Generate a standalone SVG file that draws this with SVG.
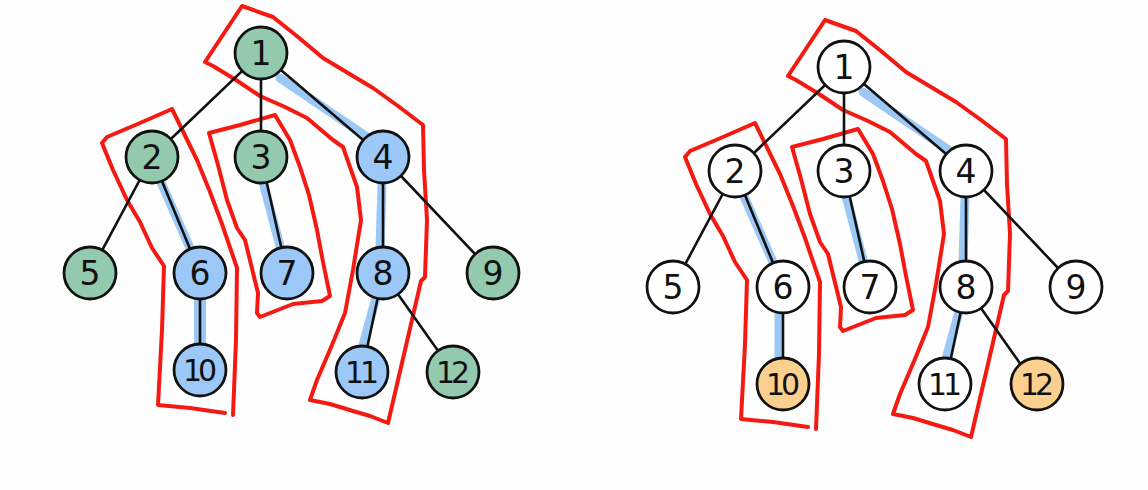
<svg xmlns="http://www.w3.org/2000/svg" width="1148" height="490" viewBox="0 0 1148 490">
<style>
.bg{fill:#fefefe}
.edge{stroke:#111;stroke-width:2.6;stroke-linecap:round;fill:none}
.hl{stroke:#9cc8f6;stroke-width:9;stroke-linecap:round;fill:none}
.glow{stroke:#9cc8f6;stroke-width:12;stroke-linecap:round;fill:none}
.loop{stroke:#f41a12;stroke-width:4;stroke-linejoin:round;stroke-linecap:round;fill:none}
.n circle{stroke:#111;stroke-width:2.8}
.g circle{fill:#93c9ad}
.b circle{fill:#9cc8f8}
.w circle{fill:#ffffff}
.o circle{fill:#fbd08e}
.n text{font-family:"DejaVu Sans","Liberation Sans",sans-serif;font-size:33px;fill:#111;text-anchor:middle}
.n text.d2{font-size:30px;letter-spacing:-4px}
</style>
<rect class="bg" x="0" y="0" width="1148" height="490"/>

<!-- LEFT TREE -->
<g id="left-tree">
  <g id="left-highlights">
    <path class="hl" d="M280,78 L370,139"/>
    <path class="hl" d="M160,180 L193,255"/>
    <path class="hl" d="M263,182 L281,250"/>
    <path class="hl" d="M382,184 L380,248"/>
    <path class="glow" d="M200,290 L200,352"/>
    <path class="hl" d="M376,298 L363,345"/>
  </g>
  <g id="left-loops">
    <path class="loop" d="M242,6 L273,17 L298,37 L323,58 L348,73 L373,88 L398,106 L423,125 L424,170 L427,220 L425,277 L421,281 L405,350 L388,423 L370,416 L353,411 L330,404 L310,400 L317,380 L332,345 L345,313 L353,270 L361,220 L357,187 L343,147 L333,140 L307,118 L285,107 L260,96 L236,80 L213,66 L205,62 Z"/>
    <path class="loop" d="M225,413 L190,408 L158,405 L162,330 L164,266 L152,248 L140,222 L127,200 L113,170 L102,143 L107,137 L140,123 L172,109 L197,160 L210,192 L222,224 L237,268 L236,340 L233,415"/>
    <path class="loop" d="M209,133 L240,125 L275,115 L290,140 L300,167 L309,195 L317,230 L323,262 L330,296 L322,301 L293,304 L260,317 L257,313 L258,293 L245,240 L237,228 L227,200 L218,165 Z"/>
  </g>
  <g id="left-edges">
    <path class="edge" d="M261,53 L152,157"/>
    <path class="edge" d="M261,53 L261,157"/>
    <path class="edge" d="M261,53 L383,157"/>
    <path class="edge" d="M152,157 L90,273"/>
    <path class="edge" d="M152,157 L200,273"/>
    <path class="edge" d="M261,157 L287,273"/>
    <path class="edge" d="M383,157 L383,273"/>
    <path class="edge" d="M383,157 L493,273"/>
    <path class="edge" d="M200,273 L200,370"/>
    <path class="edge" d="M383,273 L362,372"/>
    <path class="edge" d="M383,273 L453,372"/>
  </g>
  <g id="L1" class="n g"><circle cx="261" cy="53" r="26"/><text x="261" y="65">1</text></g>
  <g id="L2" class="n g"><circle cx="152" cy="157" r="26"/><text x="152" y="169">2</text></g>
  <g id="L3" class="n g"><circle cx="261" cy="157" r="26"/><text x="261" y="169">3</text></g>
  <g id="L4" class="n b"><circle cx="383" cy="157" r="26"/><text x="383" y="169">4</text></g>
  <g id="L5" class="n g"><circle cx="90" cy="273" r="26"/><text x="90" y="285">5</text></g>
  <g id="L6" class="n b"><circle cx="200" cy="273" r="26"/><text x="200" y="285">6</text></g>
  <g id="L7" class="n b"><circle cx="287" cy="273" r="26"/><text x="287" y="285">7</text></g>
  <g id="L8" class="n b"><circle cx="383" cy="273" r="26"/><text x="383" y="285">8</text></g>
  <g id="L9" class="n g"><circle cx="493" cy="273" r="26"/><text x="493" y="285">9</text></g>
  <g id="L10" class="n b"><circle cx="200" cy="370" r="26"/><text class="d2" x="198" y="381">10</text></g>
  <g id="L11" class="n b"><circle cx="362" cy="372" r="26"/><text class="d2" x="360" y="383">11</text></g>
  <g id="L12" class="n g"><circle cx="453" cy="372" r="26"/><text class="d2" x="451" y="383">12</text></g>
</g>

<!-- RIGHT TREE -->
<g id="right-tree" transform="translate(583,14)">
  <g id="right-highlights">
    <path class="hl" d="M280,78 L370,139"/>
    <path class="hl" d="M160,180 L193,255"/>
    <path class="hl" d="M263,182 L281,250"/>
    <path class="hl" d="M382,184 L380,248"/>
    <path class="hl" d="M196,290 L196,352"/>
    <path class="hl" d="M376,298 L363,345"/>
  </g>
  <g id="right-loops">
    <path class="loop" d="M242,6 L273,17 L298,37 L323,58 L348,73 L373,88 L398,106 L423,125 L424,170 L427,220 L425,277 L421,281 L405,350 L388,423 L370,416 L353,411 L330,404 L310,400 L317,380 L332,345 L345,313 L353,270 L361,220 L357,187 L343,147 L333,140 L307,118 L285,107 L260,96 L236,80 L213,66 L205,62 Z"/>
    <path class="loop" d="M225,413 L190,408 L158,405 L162,330 L164,266 L152,248 L140,222 L127,200 L113,170 L102,143 L107,137 L140,123 L172,109 L197,160 L210,192 L222,224 L237,268 L236,340 L233,415"/>
    <path class="loop" d="M209,133 L240,125 L275,115 L290,140 L300,167 L309,195 L317,230 L323,262 L330,296 L322,301 L293,304 L260,317 L257,313 L258,293 L245,240 L237,228 L227,200 L218,165 Z"/>
  </g>
  <g id="right-edges">
    <path class="edge" d="M261,53 L152,157"/>
    <path class="edge" d="M261,53 L261,157"/>
    <path class="edge" d="M261,53 L383,157"/>
    <path class="edge" d="M152,157 L90,273"/>
    <path class="edge" d="M152,157 L200,273"/>
    <path class="edge" d="M261,157 L287,273"/>
    <path class="edge" d="M383,157 L383,273"/>
    <path class="edge" d="M383,157 L493,273"/>
    <path class="edge" d="M200,273 L200,370"/>
    <path class="edge" d="M383,273 L362,372"/>
    <path class="edge" d="M383,273 L453,372"/>
  </g>
  <g id="R1" class="n w"><circle cx="261" cy="53" r="26"/><text x="261" y="65">1</text></g>
  <g id="R2" class="n w"><circle cx="152" cy="157" r="26"/><text x="152" y="169">2</text></g>
  <g id="R3" class="n w"><circle cx="261" cy="157" r="26"/><text x="261" y="169">3</text></g>
  <g id="R4" class="n w"><circle cx="383" cy="157" r="26"/><text x="383" y="169">4</text></g>
  <g id="R5" class="n w"><circle cx="90" cy="273" r="26"/><text x="90" y="285">5</text></g>
  <g id="R6" class="n w"><circle cx="200" cy="273" r="26"/><text x="200" y="285">6</text></g>
  <g id="R7" class="n w"><circle cx="287" cy="273" r="26"/><text x="287" y="285">7</text></g>
  <g id="R8" class="n w"><circle cx="383" cy="273" r="26"/><text x="383" y="285">8</text></g>
  <g id="R9" class="n w"><circle cx="493" cy="273" r="26"/><text x="493" y="285">9</text></g>
  <g id="R10" class="n o"><circle cx="200" cy="370" r="26"/><text class="d2" x="198" y="381">10</text></g>
  <g id="R11" class="n w"><circle cx="362" cy="370" r="26"/><text class="d2" x="360" y="381">11</text></g>
  <g id="R12" class="n o"><circle cx="454" cy="370" r="26"/><text class="d2" x="452" y="381">12</text></g>
</g>
</svg>
